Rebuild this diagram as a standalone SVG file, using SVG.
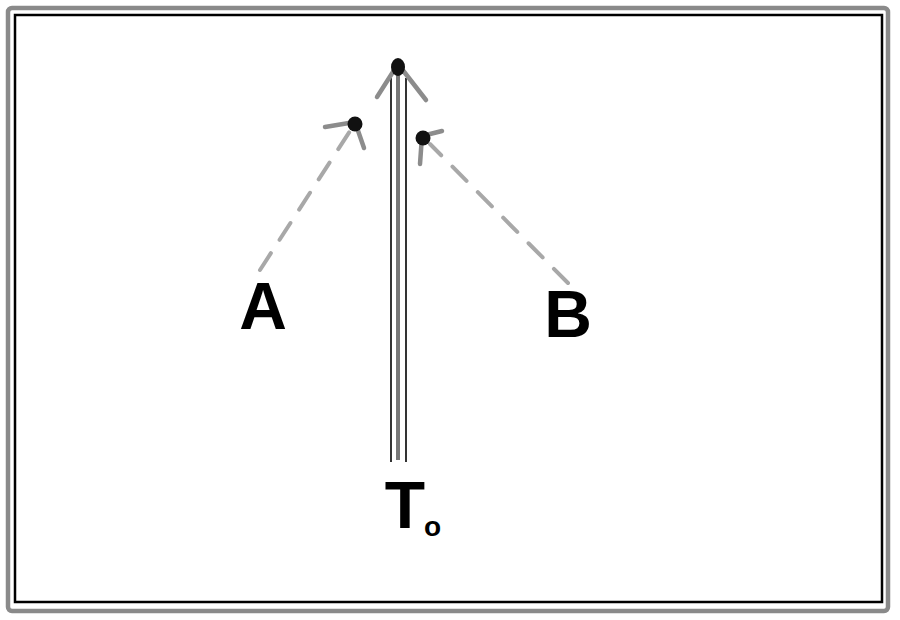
<svg xmlns="http://www.w3.org/2000/svg" width="900" height="620" viewBox="0 0 900 620">
<style>
.frame-outer{fill:none;stroke:#8a8a8a;stroke-width:4.5}
.frame-inner{fill:none;stroke:#000;stroke-width:2.5}
.dash{fill:none;stroke:#a8a8a8;stroke-width:4;stroke-dasharray:20 16;stroke-linecap:round}
.barb{fill:none;stroke:#8c8c8c;stroke-width:4.5;stroke-linecap:round;stroke-linejoin:round}
.tip{fill:#111}
.shaft{stroke:#777;stroke-width:4}
.edge{stroke:#000;stroke-width:1.6}
.lbl{font-family:"Liberation Sans",Arial,sans-serif;font-weight:bold;font-size:66px;fill:#000;text-anchor:middle}
</style>
<rect width="900" height="620" fill="#fff"/>
<rect class="frame-outer" x="8" y="8" width="880" height="603" rx="4"/>
<rect class="frame-inner" x="15" y="15" width="867" height="587"/>
<g id="connectors">
  <g id="arrow-T">
    <line class="shaft" x1="398" y1="70" x2="398" y2="460"/>
    <line class="edge" x1="391" y1="78" x2="391" y2="462"/>
    <line class="edge" x1="406" y1="78" x2="406" y2="462"/>
    <polyline class="barb" points="377,97 398,64 426,100"/>
    <ellipse class="tip" cx="398" cy="67" rx="7" ry="9"/>
  </g>
  <g id="arrow-A">
    <line class="dash" x1="260" y1="270" x2="350" y2="131"/>
    <polyline class="barb" points="325,127 355,122 364,148"/>
    <circle class="tip" cx="355" cy="124" r="7.5"/>
  </g>
  <g id="arrow-B">
    <line class="dash" x1="568" y1="283" x2="430" y2="144"/>
    <polyline class="barb" points="442,131 422,136 420,164"/>
    <circle class="tip" cx="423" cy="138" r="7.5"/>
  </g>
</g>
<g id="node-A"><text class="lbl" x="263" y="329">A</text></g>
<g id="node-B"><text class="lbl" x="568" y="337">B</text></g>
<g id="node-T"><text class="lbl" x="413" y="528">T<tspan font-size="28" dx="-1" dy="8">o</tspan></text></g>
</svg>
